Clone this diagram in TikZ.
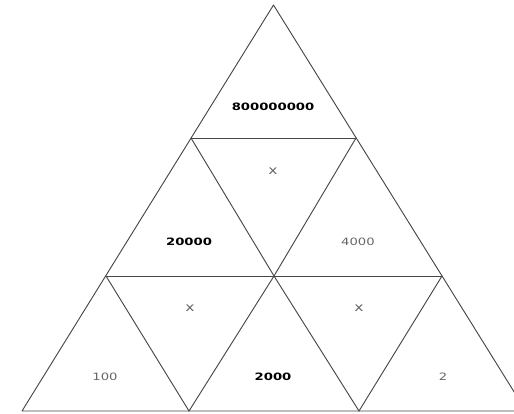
\documentclass[tikz,border=0pt]{standalone}
\usepackage{fontspec}
\newfontfamily\widefont[FakeStretch=1.3]{DejaVu Sans}
\begin{document}
\begin{tikzpicture}[x=0.75pt,y=-0.75pt,line cap=round,line join=round,
    edge/.style={line width=0.7pt,draw=black!72},
    num/.style={font=\widefont\fontsize{7.6}{8}\selectfont,text=black!60},
    cross/.style={font=\widefont\fontsize{9}{10}\selectfont,text=black!60},
    bignum/.style={font=\widefont\bfseries\fontsize{7.6}{8}\selectfont,text=black}]
  \useasboundingbox (0,0) rectangle (514,414);
  % corners of the rows
  \coordinate (apex) at (273.5,5);
  \coordinate (l1) at (191,138);
  \coordinate (r1) at (356,138);
  \coordinate (l2) at (106,276);
  \coordinate (m2) at (274,276);
  \coordinate (r2) at (442,276);
  \coordinate (b0) at (22,411);
  \coordinate (b1) at (189,411);
  \coordinate (b2) at (359,411);
  \coordinate (b3) at (526,411);
  % outline and cuts
  \draw[edge] (apex) -- (b3) -- (b0) -- cycle;
  \draw[edge] (l1) -- (r1);
  \draw[edge] (l2) -- (r2);
  \draw[edge] (l1) -- (m2) -- (b2);
  \draw[edge] (r1) -- (m2) -- (b1);
  \draw[edge] (l2) -- (b1);
  \draw[edge] (r2) -- (b2);
  % labels
  \node[bignum] (top) at (273,107) {800000000};
  \node[cross] (xtop) at (273,171) {x};
  \node[bignum] (midl) at (189,242) {20000};
  \node[num] (midr) at (358,242) {4000};
  \node[cross] (xl) at (190,308) {x};
  \node[cross] (xr) at (359,308) {x};
  \node[num] (botl) at (105,377) {100};
  \node[bignum] (botm) at (273,377) {2000};
  \node[num] (botr) at (443,377) {2};
\end{tikzpicture}
\end{document}
